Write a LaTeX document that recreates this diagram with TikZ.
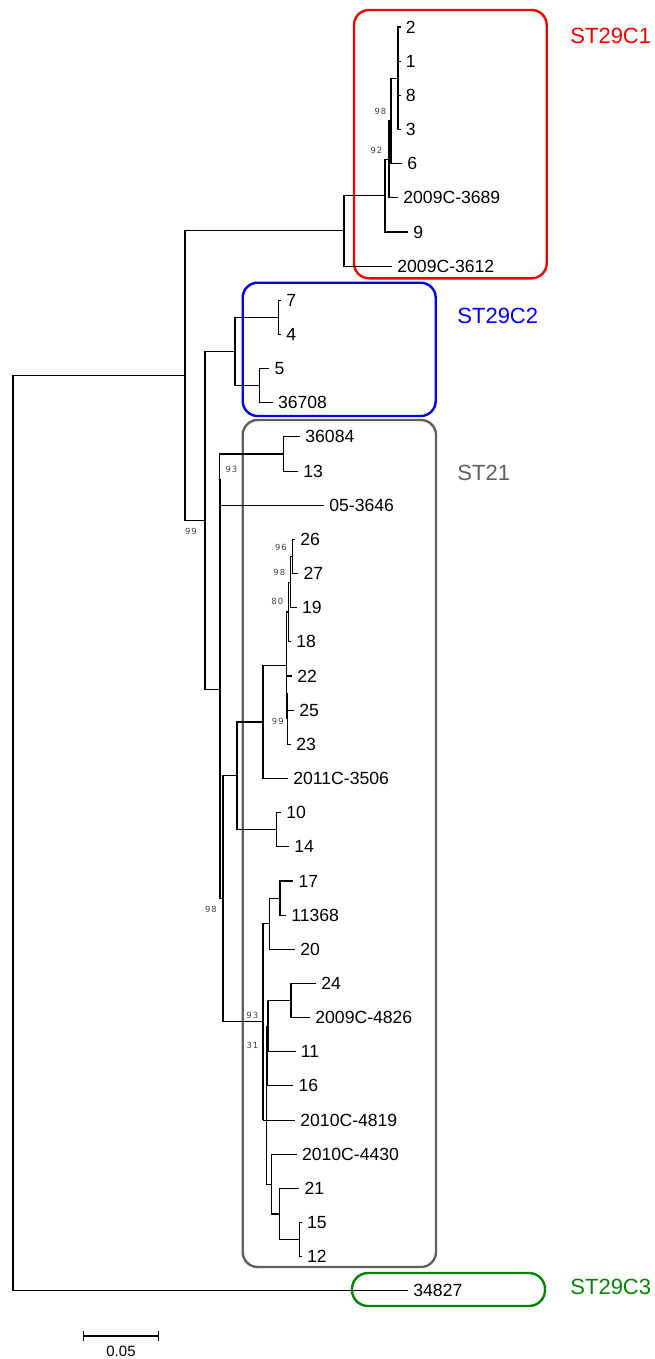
\documentclass[tikz,border=0pt]{standalone}
\usepackage{fontspec}
\setmainfont{Liberation Sans}
\newfontfamily\bootfont[LetterSpace=12]{DejaVu Sans}
\usetikzlibrary{arrows.meta}
\definecolor{stred}{RGB}{240,0,0}
\definecolor{stblue}{RGB}{0,0,235}
\definecolor{stgray}{RGB}{96,96,96}
\definecolor{stgreen}{RGB}{10,128,10}

\begin{document}
\begin{tikzpicture}[
    x=0.5pt, y=-0.5pt,
    branch/.style={draw, line width=0.55pt},
    leaf/.style={anchor=west, inner xsep=2.5pt, inner ysep=0pt, font=\fontsize{8.8}{10}\selectfont},
    boot/.style={inner sep=0pt, text=black!75, font=\bootfont\fontsize{4.2}{5}\selectfont},
    clade/.style={line width=1.2pt, rounded corners=7.5pt},
    cladename/.style={anchor=west, inner sep=0pt, font=\fontsize{11}{13}\selectfont}
]
\useasboundingbox (0,0) rectangle (654,1359);

% Clade boxes
\draw[clade, stred] (354,10) rectangle (546.7,278.3);
\draw[clade, stblue] (242.7,282.7) rectangle (435.7,416);
\draw[clade, stgray] (242.7,420) rectangle (436,1267);
\draw[clade, stgreen, rounded corners=8pt] (352,1273) rectangle (545,1306);

\node[cladename, text=stred] (lC1) at (570,36) {ST29C1};
\node[cladename, text=stblue] (lC2) at (457,316) {ST29C2};
\node[cladename, text=stgray] (lST21) at (457,472.5) {ST21};
\node[cladename, text=stgreen] (lC3) at (570,1287) {ST29C3};

% Leaves ST29C1
\node[leaf] (t2) at (400.5,27) {2};
\node[leaf] (t1) at (400.5,61.2) {1};
\node[leaf] (t8) at (400.5,95.3) {8};
\node[leaf] (t3) at (400.5,129.5) {3};
\node[leaf] (t6) at (402,163.6) {6};
\node[leaf] (t3689) at (398,197.8) {2009C-3689};
\node[leaf] (t9) at (408,232) {9};
\node[leaf] (t3612) at (392,266.1) {2009C-3612};

% Leaves ST29C2
\node[leaf] (t7) at (281,300.3) {7};
\node[leaf] (t4) at (281,334.4) {4};
\node[leaf] (t5) at (269.3,368.6) {5};
\node[leaf] (t36708) at (272.7,402.8) {36708};

% Leaves ST21
\node[leaf] (t36084) at (300,436.9) {36084};
\node[leaf] (t13) at (298,471.1) {13};
\node[leaf] (t3646) at (324,505.2) {05-3646};
\node[leaf] (t26) at (295,539.4) {26};
\node[leaf] (t27) at (298.3,573.6) {27};
\node[leaf] (t19) at (296.7,607.7) {19};
\node[leaf] (t18) at (291,641.9) {18};
\node[leaf] (t22) at (292,676) {22};
\node[leaf] (t25) at (294,710.2) {25};
\node[leaf] (t23) at (291,744.4) {23};
\node[leaf] (t3506) at (288,778.5) {2011C-3506};
\node[leaf] (t10) at (281,812.7) {10};
\node[leaf] (t14) at (289,846.8) {14};
\node[leaf] (t17) at (293.3,881) {17};
\node[leaf] (t11368) at (286,915.2) {11368};
\node[leaf] (t20) at (295,949.3) {20};
\node[leaf] (t24) at (316,983.5) {24};
\node[leaf] (t4826) at (310,1017.6) {2009C-4826};
\node[leaf] (t11) at (295.5,1051.8) {11};
\node[leaf] (t16) at (293.3,1085.9) {16};
\node[leaf] (t4819) at (295,1120.1) {2010C-4819};
\node[leaf] (t4430) at (296.7,1154.3) {2010C-4430};
\node[leaf] (t21) at (299.3,1188.4) {21};
\node[leaf] (t15) at (301.7,1222.6) {15};
\node[leaf] (t12) at (301.7,1256.8) {12};

% Leaf ST29C3
\node[leaf] (t34827) at (408,1290.9) {34827};

% Internal nodes
\coordinate (root) at (13,833.3);
\coordinate (nA) at (185,375.65);
\coordinate (nC1) at (344,230.9);
\coordinate (n9) at (385,195.7);
\coordinate (n92) at (389,159.4);
\coordinate (n98) at (391,120.95);
\coordinate (n1238) at (398,78.25);
\coordinate (n21) at (398,44.1);
\coordinate (n83) at (398,112.4);
\coordinate (nB) at (205,520.4);
\coordinate (nC2) at (235,351.5);
\coordinate (n74) at (278.3,317.35);
\coordinate (n5) at (259.3,385.7);
\coordinate (nC) at (220,689.25);
\coordinate (nD) at (219.5,479.6);
\coordinate (n36) at (283.3,454);
\coordinate (nE) at (223,898.9);
\coordinate (nF) at (237,775.9);
\coordinate (nF1) at (263,722);
\coordinate (nT) at (286.7,665.4);
\coordinate (n18) at (288.3,612);
\coordinate (n19) at (290.7,582.1);
\coordinate (n2627) at (292.7,556.5);
\coordinate (n99) at (287.3,718.8);
\coordinate (n2225) at (286.7,693.1);
\coordinate (n1014) at (276.7,829.75);
\coordinate (nG) at (263,1021.9);
\coordinate (nH) at (269.3,923.7);
\coordinate (n17) at (280,898.1);
\coordinate (nGp) at (263,1120.1);
\coordinate (nN2) at (266.7,1120.1);
\coordinate (nN2a) at (267,1056);
\coordinate (nN1) at (268,1026.2);
\coordinate (n24) at (291,1000.6);
\coordinate (nP) at (271.7,1184.2);
\coordinate (n21b) at (279.3,1214);
\coordinate (n15) at (299.3,1239.7);

% Branches
\draw[branch] (root) |- (nA) (root) |- (t34827.west);
\draw[branch] (nA) |- (nC1) (nA) |- (nB);
\draw[branch] (nC1) |- (n9) (nC1) |- (t3612.west);
\draw[branch] (n9) |- (n92) (n9) |- (t9.west);
\draw[branch] (n92) |- (n98) (n92) |- (t3689.west);
\draw[branch] (n98) |- (n1238) (n98) |- (t6.west);
\draw[branch] (n1238) |- (n21) (n1238) |- (n83);
\draw[branch] (n21) |- (t2.west) (n21) |- (t1.west);
\draw[branch] (n83) |- (t8.west) (n83) |- (t3.west);
\draw[branch] (nB) |- (nC2) (nB) |- (nC);
\draw[branch] (nC2) |- (n74) (nC2) |- (n5);
\draw[branch] (n74) |- (t7.west) (n74) |- (t4.west);
\draw[branch] (n5) |- (t5.west) (n5) |- (t36708.west);
\draw[branch] (nC) |- (nD) (nC) |- (nE);
\draw[branch] (nD) |- (n36) (nD) |- (t3646.west);
\draw[branch] (n36) |- (t36084.west) (n36) |- (t13.west);
\draw[branch] (nE) |- (nF) (nE) |- (nG);
\draw[branch] (nF) |- (nF1) (nF) |- (n1014);
\draw[branch] (nF1) |- (nT) (nF1) |- (t3506.west);
\draw[branch] (nT) |- (n18) (nT) |- (n99);
\draw[branch] (n18) |- (n19) (n18) |- (t18.west);
\draw[branch] (n19) |- (n2627) (n19) |- (t19.west);
\draw[branch] (n2627) |- (t26.west) (n2627) |- (t27.west);
\draw[branch] (n99) |- (n2225) (n99) |- (t23.west);
\draw[branch] (n2225) |- (t22.west) (n2225) |- (t25.west);
\draw[branch] (n1014) |- (t10.west) (n1014) |- (t14.west);
\draw[branch] (nG) |- (nH) (nG) |- (nGp);
\draw[branch] (nH) |- (n17) (nH) |- (t20.west);
\draw[branch] (n17) |- (t17.west) (n17) |- (t11368.west);
\draw[branch] (nGp) |- (t4819.west) (nGp) |- (nN2);
\draw[branch] (nN2) |- (nN2a) (nN2) |- (nP);
\draw[branch] (nN2a) |- (nN1) (nN2a) |- (t16.west);
\draw[branch] (nN1) |- (n24) (nN1) |- (t11.west);
\draw[branch] (n24) |- (t24.west) (n24) |- (t4826.west);
\draw[branch] (nP) |- (t4430.west) (nP) |- (n21b);
\draw[branch] (n21b) |- (t21.west) (n21b) |- (n15);
\draw[branch] (n15) |- (t15.west) (n15) |- (t12.west);

% Bootstrap values
\node[boot] (b98a) at (380.5,111.7) {98};
\node[boot] (b92) at (376.5,150) {92};
\node[boot] (b93a) at (231.5,469) {93};
\node[boot] (b99a) at (191,531) {99};
\node[boot] (b96) at (281,547) {96};
\node[boot] (b98b) at (279.3,572.7) {98};
\node[boot] (b80) at (277.3,601.7) {80};
\node[boot] (b99b) at (277.8,721.7) {99};
\node[boot] (b98c) at (211,909.3) {98};
\node[boot] (b93b) at (252.3,1015.3) {93};
\node[boot] (b31) at (252.5,1045.7) {31};

% Scale bar
\coordinate (sbL) at (83,1336);
\coordinate (sbR) at (159,1336);
\draw[branch, {Bar[width=5pt]}-{Bar[width=5pt]}] (sbL) -- (sbR);
\node[inner sep=0pt, font=\fontsize{7.5}{9}\selectfont] (sbText) at (121,1351.5) {0.05};

\end{tikzpicture}
\end{document}
